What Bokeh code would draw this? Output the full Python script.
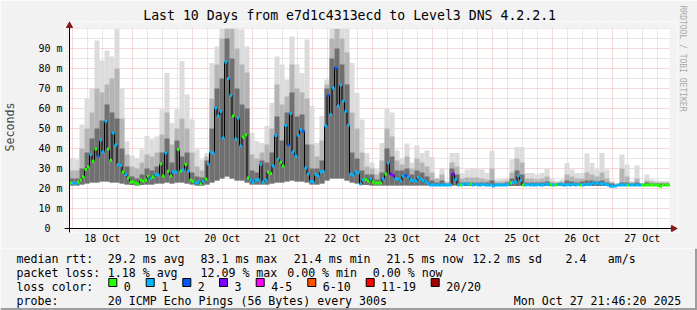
import numpy as np
from bokeh.plotting import figure
from bokeh.layouts import column, row
from bokeh.models import Range1d, FixedTicker, Title, ColumnDataSource, Span, PolyAnnotation
from bokeh.core.properties import value
from bokeh.embed import file_html
from bokeh.resources import INLINE

# ---------------- data ----------------
# time axis: hours relative to 18 Oct 00:00, 10-day window
T_START = -1.08
T_END = 238.92
MED_STEP = 1.0      # hours per median sample
SMOKE_STEP = 2.0    # hours per smoke column
Y_TOP = 100         # ms at top of graph

day_labels = ["18 Oct", "19 Oct", "20 Oct", "21 Oct", "22 Oct",
              "23 Oct", "24 Oct", "25 Oct", "26 Oct", "27 Oct"]

# median rtt (ms), one per hour
median_ms = [
    22.8, 22.8, 22.5, 23.3, 24.2, 25.8, 29.5, 30.8, 37.0, 33.6,
    39.8, 36.2, 44.2, 38.2, 53.6, 39.8, 34.1, 47.8, 41.8, 32.0,
    31.5, 28.2, 27.0, 25.3, 23.3, 23.3, 22.8, 22.3, 24.2, 23.6,
    24.2, 26.2, 25.0, 25.8, 27.0, 26.7, 32.3, 26.2, 37.8, 28.6,
    26.2, 28.3, 28.3, 39.5, 28.6, 29.2, 32.0, 28.6, 24.2, 23.6,
    22.8, 23.3, 22.3, 23.6, 24.8, 32.3, 38.2, 37.8, 60.3, 56.2,
    58.6, 45.3, 83.3, 75.0, 66.6, 56.2, 44.8, 55.3, 41.2, 45.8,
    46.8, 25.3, 24.2, 23.2, 24.2, 24.5, 32.0, 23.3, 24.2, 28.2,
    27.5, 31.2, 46.5, 34.8, 33.1, 31.2, 51.5, 41.8, 57.5, 38.3,
    36.2, 46.6, 49.5, 48.6, 30.3, 27.3, 23.6, 23.2, 27.0, 26.2,
    28.3, 28.6, 51.2, 66.6, 57.0, 70.3, 80.3, 61.2, 71.7, 63.6,
    58.6, 51.6, 27.3, 26.8, 28.3, 27.8, 22.3, 24.2, 24.5, 23.6,
    24.8, 23.2, 22.8, 22.8, 22.8, 24.8, 27.3, 32.8, 27.2, 26.6,
    25.0, 24.5, 23.7, 26.2, 26.6, 25.6, 24.2, 24.0, 23.7, 25.6,
    24.8, 24.0, 23.2, 22.5, 21.8, 21.8, 21.8, 21.8, 21.8, 21.8,
    21.8, 21.8, 21.8, 27.3, 24.5, 21.8, 21.8, 22.0, 22.3, 22.3,
    22.3, 21.8, 22.0, 21.8, 21.8, 22.0, 21.8, 21.8, 21.8, 21.2,
    21.8, 21.8, 21.8, 21.8, 21.8, 22.0, 22.8, 23.0, 23.3, 26.2,
    24.0, 21.8, 21.8, 22.0, 21.8, 21.8, 21.8, 22.0, 21.8, 21.8,
    22.0, 22.3, 21.8, 21.8, 21.8, 22.0, 22.3, 21.8, 21.8, 22.0,
    21.8, 22.0, 21.8, 22.0, 21.8, 21.8, 22.0, 22.3, 22.0, 22.8,
    22.3, 23.0, 22.5, 22.3, 22.0, 21.8, 21.1, 21.1, 21.3, 21.8,
    21.8, 21.8, 21.8, 21.8, 21.8, 21.8, 21.8, 21.8, 21.8, 21.8,
    21.8, 21.8, 21.8, 21.8, 21.8, 21.5, 21.1, 21.8, 21.8, 21.8,
]

# packet-loss class per hour (index into loss_colors)
loss_class = [
    0, 1, 1, 0, 0, 0, 0, 0, 1, 0,
    0, 2, 1, 1, 1, 0, 0, 1, 1, 1,
    1, 0, 1, 0, 0, 0, 0, 0, 0, 0,
    0, 0, 1, 0, 1, 1, 0, 0, 1, 0,
    0, 1, 1, 0, 0, 1, 0, 1, 0, 0,
    1, 1, 0, 1, 0, 1, 1, 1, 1, 1,
    1, 1, 1, 1, 1, 0, 1, 1, 1, 0,
    0, 0, 1, 1, 1, 1, 1, 1, 1, 0,
    0, 1, 1, 1, 0, 0, 1, 2, 1, 1,
    1, 1, 1, 2, 1, 1, 1, 1, 1, 1,
    1, 1, 1, 2, 1, 1, 2, 1, 1, 1,
    1, 1, 1, 1, 1, 1, 1, 1, 0, 0,
    1, 0, 0, 0, 0, 1, 0, 1, 3, 3,
    1, 1, 1, 1, 2, 1, 1, 1, 1, 1,
    1, 1, 1, 1, 1, 1, 1, 1, 1, 1,
    1, 1, 1, 3, 1, 1, 0, 1, 1, 1,
    0, 1, 1, 1, 1, 1, 1, 1, 1, 1,
    1, 1, 1, 1, 1, 1, 0, 1, 1, 1,
    1, 0, 1, 1, 1, 1, 1, 1, 1, 1,
    1, 1, 0, 1, 0, 1, 1, 1, 1, 1,
    1, 1, 1, 1, 0, 1, 1, 1, 1, 1,
    1, 1, 1, 1, 1, 1, 1, 1, 1, 1,
    1, 1, 1, 0, 1, 1, 1, 1, 1, 0,
    0, 0, 0, 0, 0, 0, 0, 0, 0, 0,
]

# smoke (ping spread, ms), one column per 2 hours
smoke_lo = [
    21.5, 21.5, 22.0, 22.5, 23.0, 23.0, 23.5, 23.5, 23.0, 23.0,
    22.5, 22.0, 21.8, 21.5, 21.8, 22.0, 22.0, 22.5, 22.5, 23.0,
    22.5, 23.0, 23.0, 22.5, 22.0, 21.5, 21.5, 22.0, 23.0, 24.0,
    25.0, 26.0, 25.0, 24.0, 24.0, 23.0, 22.0, 22.0, 22.0, 22.0,
    22.5, 23.0, 23.0, 23.5, 24.0, 23.5, 23.5, 23.0, 22.0, 22.0,
    22.5, 24.0, 25.0, 25.0, 25.0, 24.0, 23.0, 22.5, 21.8, 21.8,
    21.5, 21.5, 21.5, 21.5, 21.5, 21.5, 21.5, 21.5, 21.5, 21.5,
    21.5, 21.5, 21.5, 21.5, 21.5, 21.5, 21.5, 21.5, 21.3, 21.3,
    21.3, 21.3, 21.3, 21.3, 21.3, 21.3, 21.3, 21.3, 21.3, 21.3,
    21.3, 21.3, 21.3, 21.3, 21.3, 21.3, 21.3, 21.3, 21.3, 21.3,
    21.3, 21.3, 21.3, 21.3, 21.3, 21.3, 21.3, 21.3, 21.3, 21.3,
    21.3, 21.3, 21.3, 21.3, 21.3, 21.3, 21.3, 21.3, 21.3, 21.3,
]
smoke_dark = [
    25, 25, 30, 38, 45, 50, 54, 62, 58, 55,
    40, 31, 26, 25, 27, 30, 29, 31, 38, 45,
    33, 44, 36, 38, 28, 26, 25.5, 34, 50, 70,
    75, 95, 85, 70, 62, 60, 29, 28, 34, 33,
    38, 56, 44, 58, 68, 56, 57, 42, 30, 30,
    34, 70, 85, 90, 82, 72, 38, 35, 29, 27,
    27, 24.5, 28, 40, 36, 29, 29, 30, 27, 29,
    28, 26, 24, 23, 24, 22.5, 30, 27, 23, 23,
    23, 23, 23, 23, 24, 22.5, 22.5, 23, 25, 29,
    27, 23, 23, 23, 23, 23.5, 22.5, 22.5, 22.5, 24,
    23.5, 23, 23.5, 24, 24, 23.5, 24, 23, 22.5, 21.8,
    23, 23, 22.5, 23, 22.3, 23, 22.5, 22.5, 22.5, 22.5,
]
smoke_mid = [
    29, 29, 40, 50, 58, 70, 68, 72, 75, 80,
    55, 37, 31, 30, 33, 37, 36, 38, 47, 58,
    42, 50, 55, 50, 38, 31, 29, 36, 65, 82,
    95, 100, 100, 90, 82, 78, 37, 35, 38, 42,
    50, 72, 62, 66, 82, 70, 68, 65, 42, 36,
    44, 72, 95, 100, 95, 88, 58, 50, 38, 31,
    30, 27, 34, 50, 46, 34, 32, 36, 30, 35,
    33, 31, 28, 25, 27, 23, 33, 31, 25, 25.5,
    25.5, 25.5, 25, 24.5, 30, 23.5, 23.5, 24, 28, 35,
    33, 25, 25, 24.5, 25, 26, 23.5, 23, 23.5, 27,
    26, 25, 25, 28, 27, 26, 28, 25, 23, 22.2,
    30, 26, 23, 25, 22.5, 24, 23.5, 23, 23, 23,
]
smoke_max = [
    35.3, 34.5, 52, 65, 70, 94, 84, 89, 86, 100,
    70, 43.6, 36.5, 35.3, 39.5, 46.2, 44.5, 46, 59.5, 77.8,
    52.8, 59.5, 83.6, 67, 54.5, 39.5, 34.5, 37.8, 82.8, 91,
    100, 100, 100, 100, 99.5, 91, 47.8, 43.6, 42.8, 51.2,
    62.8, 86, 82, 74.5, 96, 82, 77.8, 94.5, 61.2, 42.8,
    56.2, 74.5, 100, 100, 100, 100, 82.8, 67.8, 54.5, 37.8,
    33, 29.5, 42.8, 60.3, 58, 39, 35.3, 42.5, 33, 41.6,
    37.8, 39, 35.8, 25, 30, 23.7, 37.8, 37.8, 27.8, 29.5,
    30, 30, 29.5, 27.8, 39, 24.5, 24.8, 25.3, 34.5, 40.8,
    40.8, 27.8, 27.8, 27, 27.8, 30.3, 25.3, 23.7, 24.5, 32.8,
    29.5, 27.8, 27.8, 37.5, 32.8, 29.5, 37.8, 29.5, 23.7, 22.8,
    37, 32, 23.7, 31.5, 22.8, 27, 24.5, 24.1, 23.7, 23.7,
]

loss_labels = ["0", "1", "2", "3", "4-5", "6-10", "11-19", "20/20"]
loss_colors = ["#26ff00", "#00b8ff", "#0059ff", "#7e00ff",
               "#ff00ff", "#ff5500", "#ff0000", "#a10000"]

title_text = "Last 10 Days from e7d1c4313ecd to Level3 DNS 4.2.2.1"
rtt_stats = ["median rtt:", "29.2 ms avg", "83.1 ms max", "21.4 ms min",
             "21.5 ms now", "12.2 ms sd", "2.4", "am/s"]
loss_stats = ["packet loss:", "1.18 % avg", "12.09 % max", "0.00 % min", "0.00 % now"]
probe_line = ["probe:", "20 ICMP Echo Pings (56 Bytes) every 300s", "Mon Oct 27 21:46:20 2025"]

# ---------------- style / layout constants ----------------
MONO = "DejaVu Sans Mono"
BACK = "#f2f2f2"
SHADE = "#9d9d9d"
GRID = "#cfcfcf"
MGRID = "#eeb0b0"
ARROW = "#8b1a1a"
PX_PER_H = 2.5
PX_PER_MS = 2.0
# frame extends a few pixels beyond the graph area so the axis arrows fit
EXT_L, EXT_R, EXT_B, EXT_T = 5, 8, 4, 7
X_LO = T_START - EXT_L / PX_PER_H
X_HI = T_END + EXT_R / PX_PER_H
Y_LO = 0 - EXT_B / PX_PER_MS
Y_HI = Y_TOP + EXT_T / PX_PER_MS
FRAME_W = int(round((X_HI - X_LO) * PX_PER_H))
FRAME_H = int(round((Y_HI - Y_LO) * PX_PER_MS))

p = figure(frame_width=FRAME_W, frame_height=FRAME_H, output_backend="svg",
           toolbar_location=None,
           x_range=Range1d(X_LO, X_HI), y_range=Range1d(Y_LO, Y_HI),
           min_border_left=62, min_border_right=695 - 62 - FRAME_W,
           min_border_top=21, min_border_bottom=16)
p.background_fill_color = "white"
p.border_fill_color = BACK
p.outline_line_color = None

# axes (tick labels only)
midnights = [24 * d for d in range(len(day_labels))]
noons = [24 * d + 12 for d in range(len(day_labels))]
quarters = [h for h in range(6, 240, 6) if h % 24]

p.xaxis.ticker = FixedTicker(ticks=noons)
p.xaxis.major_label_overrides = {n: lab for n, lab in zip(noons, day_labels)}
p.xaxis.major_label_standoff = 0

ymajor = list(range(0, Y_TOP, 10))
p.yaxis.ticker = FixedTicker(ticks=ymajor)
p.yaxis.major_label_overrides = {v: ("0\u00a0\u00a0" if v == 0 else f"{v} m") for v in ymajor}
p.yaxis.major_label_standoff = 2
p.yaxis.axis_label = "Seconds"
p.yaxis.axis_label_text_font = MONO
p.yaxis.axis_label_text_font_size = "11.6px"
p.yaxis.axis_label_text_font_style = "normal"
p.yaxis.axis_label_standoff = 18

for ax in (p.xaxis, p.yaxis):
    ax.axis_line_color = None
    ax.major_tick_line_color = None
    ax.minor_tick_line_color = None
    ax.major_tick_out = 0
    ax.major_tick_in = 0
    ax.minor_tick_out = 0
    ax.minor_tick_in = 0
    ax.major_label_text_font = MONO
    ax.major_label_text_font_size = "10px"
    ax.major_label_text_color = "black"

p.xgrid.ticker = FixedTicker(ticks=midnights, minor_ticks=quarters)
p.ygrid.ticker = FixedTicker(ticks=list(range(10, Y_TOP + 1, 10)),
                             minor_ticks=list(range(5, Y_TOP, 10)))
for g in (p.xgrid, p.ygrid):
    g.grid_line_color = MGRID
    g.grid_line_dash = "1 1"
    g.minor_grid_line_color = GRID
    g.minor_grid_line_dash = "1 1"
    g.level = "underlay"

# smoke
tk = T_START + SMOKE_STEP * np.arange(len(smoke_max))
ssrc = ColumnDataSource(dict(left=tk, right=tk + SMOKE_STEP, lo=smoke_lo,
                             dark=smoke_dark, mid=smoke_mid, top=smoke_max))
p.quad(left="left", right="right", bottom="lo", top="top", source=ssrc,
       fill_color="#dcdcdc", line_color=None)
p.quad(left="left", right="right", bottom="lo", top="mid", source=ssrc,
       fill_color="#b5b5b5", line_color=None)
p.quad(left="left", right="right", bottom="lo", top="dark", source=ssrc,
       fill_color="#707070", line_color=None)

# grey surround outside the graph canvas (hides the grid there)
msk = ColumnDataSource(dict(left=[X_LO, T_END, T_START, T_START],
                            right=[T_START, X_HI, T_END, T_END],
                            bottom=[Y_LO, Y_LO, Y_LO, Y_TOP],
                            top=[Y_HI, Y_HI, 0, Y_HI]))
p.quad(left="left", right="right", bottom="bottom", top="top", source=msk,
       fill_color=BACK, line_color=None)

# axis lines with arrow heads
axs = ColumnDataSource(dict(x0=[X_LO, T_START], y0=[0, Y_LO],
                            x1=[T_END + 1.0, T_START], y1=[0, Y_TOP + 1.5]))
p.segment(x0="x0", y0="y0", x1="x1", y1="y1", source=axs,
          line_color="black", line_width=1)
arr = ColumnDataSource(dict(x=[T_START, T_END + 1.6], y=[Y_TOP + 1.4, 0],
                            a=[0.0, -np.pi / 2]))
p.scatter(x="x", y="y", angle="a", source=arr, marker="triangle", size=6,
          fill_color=ARROW, line_color=ARROW)

# median line coloured by loss
tj = T_START + MED_STEP * np.arange(len(median_ms))
med = np.array(median_ms)
p.step(x=np.append(tj, T_END), y=np.append(med, med[-1]), mode="after",
       line_color="black", line_width=1)
msrc = ColumnDataSource(dict(x0=tj, x1=tj + MED_STEP, y=med,
                             c=[loss_colors[i] for i in loss_class]))
p.segment(x0="x0", x1="x1", y0="y", y1="y", source=msrc, line_color="c",
          line_width=3, line_cap="butt")

# axis lines / arrow heads again as annotations, painted above every glyph
p.add_layout(Span(location=0, dimension="width", line_color="black", line_width=1))
p.add_layout(Span(location=T_START, dimension="height", line_color="black", line_width=1))
p.add_layout(PolyAnnotation(xs=[T_START - 1.1, T_START + 1.1, T_START],
                            ys=[Y_TOP + 0.5, Y_TOP + 0.5, Y_TOP + 3.2],
                            fill_color=ARROW, fill_alpha=1, line_color=ARROW))
p.add_layout(PolyAnnotation(xs=[T_END + 0.6, T_END + 0.6, T_END + 3.0],
                            ys=[1.4, -1.4, 0],
                            fill_color=ARROW, fill_alpha=1, line_color=ARROW))

# title and side credit
p.title = Title(text=title_text, align="left", offset=140.7 - 62,
                text_font=MONO, text_font_size="13.2px", text_font_style="normal",
                text_color="black", standoff=-3)
p.add_layout(Title(text="RRDTOOL / TOBI OETIKER", align="left", offset=-16,
                   text_font=MONO, text_font_size="8px", text_font_style="normal",
                   text_color="#a8a8a8", standoff=0), "right")

# right shade strip
MAIN_H = 21 + FRAME_H + 16
strip = figure(width=2, height=MAIN_H, output_backend="svg", toolbar_location=None,
               x_axis_type=None, y_axis_type=None, min_border=0,
               background_fill_color=SHADE, border_fill_color=SHADE, outline_line_color=None)

# ---------------- legend panel ----------------
leg = figure(width=697, height=310 - MAIN_H, output_backend="svg", toolbar_location=None,
             x_axis_type=None, y_axis_type=None, min_border=0,
             x_range=Range1d(0, 697), y_range=Range1d(310, MAIN_H))
leg.background_fill_color = BACK
leg.border_fill_color = BACK
leg.outline_line_color = None

def put(texts, xs, y):
    leg.text(x=xs, y=[y] * len(texts), text=texts, text_font=value(MONO),
             text_font_size=value("11.6px"), text_baseline="alphabetic",
             text_align="left", text_color="black")

put(rtt_stats, [16, 107.3, 200, 293.3, 386, 471.7, 565, 607.3], 258)
put(loss_stats, [16, 107.3, 200, 286.7, 372.3], 272)
put(["loss color:"], [16], 286)
box_left = [108.3, 145.7, 182.3, 219.0, 255.7, 307.3, 365.7, 430.7]
leg.quad(left=box_left, right=[b + 8 for b in box_left], top=[278] * 8, bottom=[286] * 8,
         fill_color=loss_colors, line_color="black", line_width=1)
put(loss_labels, [b + 15 for b in box_left], 286)
put(probe_line, [16, 107.3, 513.3], 300)

# bottom / right shade of the image border
leg.quad(left=[0, 694.5], right=[697, 697], top=[307.5, MAIN_H], bottom=[310, 310],
         fill_color=SHADE, line_color=None)

layout = column(row(p, strip), leg)
open("out.html", "w").write(file_html(layout, INLINE))
